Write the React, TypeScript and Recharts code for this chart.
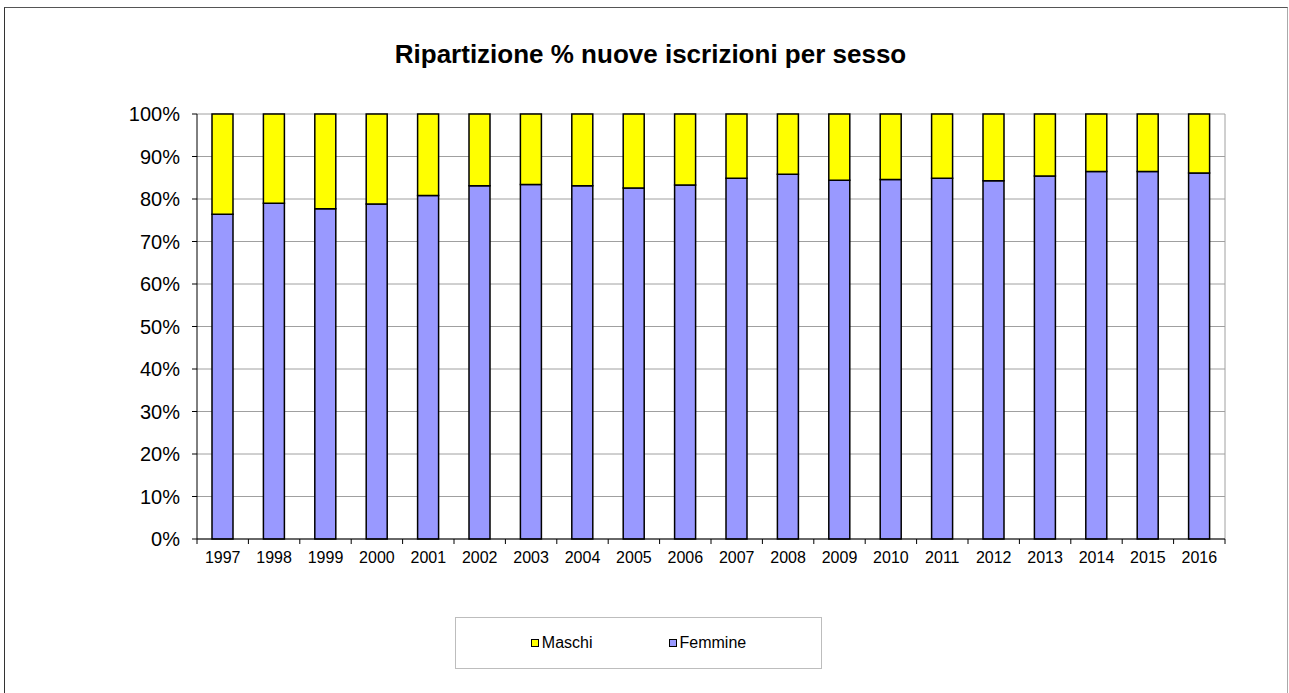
import React from "react";
import {
  BarChart,
  Bar,
  XAxis,
  YAxis,
  CartesianGrid,
  Legend,
} from "recharts";

const YEARS = [
  "1997", "1998", "1999", "2000", "2001", "2002", "2003", "2004", "2005", "2006",
  "2007", "2008", "2009", "2010", "2011", "2012", "2013", "2014", "2015", "2016",
];
const FEMMINE = [
  76.4, 79.0, 77.7, 78.8, 80.8, 83.1, 83.4, 83.1, 82.6, 83.3,
  84.9, 85.8, 84.4, 84.6, 84.9, 84.3, 85.4, 86.5, 86.5, 86.1,
];
const MASCHI = [
  23.6, 21.0, 22.3, 21.2, 19.2, 16.9, 16.6, 16.9, 17.4, 16.7,
  15.1, 14.2, 15.6, 15.4, 15.1, 15.7, 14.6, 13.5, 13.5, 13.9,
];
const Y_TICKS = [0, 10, 20, 30, 40, 50, 60, 70, 80, 90, 100];

const FONT = '"Liberation Sans", Arial, sans-serif';
const TICK_SIZE = 5;
const TICK_MARGIN = 8;

const data = YEARS.map((year, i) => ({
  year,
  femmine: FEMMINE[i],
  maschi: MASCHI[i],
}));

// etichetta dell'asse X con le tacche sui bordi delle categorie
function YearTick(props: any) {
  const { x, y, payload, index, visibleTicksCount } = props;
  const half = payload && payload.offset ? payload.offset : 25.7;
  const axisY = y - TICK_SIZE - TICK_MARGIN;
  return (
    <g>
      <line x1={x - half} x2={x - half} y1={axisY} y2={axisY + TICK_SIZE} stroke="#000" />
      {index === visibleTicksCount - 1 && (
        <line x1={x + half} x2={x + half} y1={axisY} y2={axisY + TICK_SIZE} stroke="#000" />
      )}
      <text x={x} y={y} dy="0.71em" textAnchor="middle" fontSize={16} fontFamily={FONT} fill="#000">
        {payload.value}
      </text>
    </g>
  );
}

function LegendBox(props: any) {
  const items = [...(props.payload || [])].reverse();
  return (
    <div
      style={{
        width: "100%",
        height: "100%",
        boxSizing: "border-box",
        border: "1px solid #bdbdbd",
        display: "flex",
        alignItems: "center",
        justifyContent: "center",
        fontFamily: FONT,
        fontSize: 16,
        color: "#000",
      }}
    >
      {items.map((item: any, i: number) => (
        <div
          key={item.value}
          style={{ display: "flex", alignItems: "center", marginRight: i === 0 ? 76 : 0 }}
        >
          <span
            style={{
              display: "inline-block",
              width: 8,
              height: 8,
              boxSizing: "border-box",
              border: "1px solid #000",
              background: item.color,
              marginRight: 3,
            }}
          />
          <span>{item.value}</span>
        </div>
      ))}
    </div>
  );
}

export default function App() {
  return (
    <div
      style={{
        position: "absolute",
        left: 0,
        top: 0,
        width: 1289,
        height: 693,
        background: "#fff",
        overflow: "hidden",
      }}
    >
      <div
        style={{
          position: "absolute",
          left: 4,
          top: 7,
          width: 1282,
          height: 700,
          borderLeft: "1px solid #333",
          borderTop: "1px solid #555",
          borderRight: "1px solid #aaa",
        }}
      />
      <div
        style={{
          position: "absolute",
          left: 0,
          top: 41,
          width: 1301,
          textAlign: "center",
          fontFamily: FONT,
          fontWeight: "bold",
          fontSize: 26,
          lineHeight: "26px",
          color: "#000",
        }}
      >
        Ripartizione % nuove iscrizioni per sesso
      </div>
      <div style={{ position: "absolute", left: 0, top: 0 }}>
        <BarChart
          width={1289}
          height={693}
          data={data}
          margin={{ top: 114, right: 64, bottom: 124, left: 137 }}
          barSize={21}
        >
          <CartesianGrid
            stroke="#a0a0a0"
            horizontal={true}
            vertical={true}
            verticalCoordinatesGenerator={({ offset }: any) => [offset.left + offset.width]}
          />
          <XAxis
            dataKey="year"
            height={30}
            interval={0}
            tickLine={false}
            tickSize={TICK_SIZE}
            tickMargin={TICK_MARGIN}
            axisLine={{ stroke: "#000", strokeWidth: 1 }}
            tick={<YearTick />}
          />
          <YAxis
            width={60}
            domain={[0, 100]}
            ticks={Y_TICKS}
            interval={0}
            tickFormatter={(v: number) => `${v}%`}
            tickSize={TICK_SIZE}
            tickMargin={12}
            tickLine={{ stroke: "#000" }}
            axisLine={{ stroke: "#000", strokeWidth: 1 }}
            tick={{ fontSize: 20, fontFamily: FONT, fill: "#000" }}
          />
          <Legend
            layout="horizontal"
            verticalAlign="middle"
            align="center"
            wrapperStyle={{ left: 455, top: 617, width: 367, height: 52 }}
            content={<LegendBox />}
          />
          <Bar
            dataKey="femmine"
            name="Femmine"
            stackId="a"
            fill="#9999FF"
            stroke="#000"
            strokeWidth={1.5}
            isAnimationActive={false}
          />
          <Bar
            dataKey="maschi"
            name="Maschi"
            stackId="a"
            fill="#FFFF00"
            stroke="#000"
            strokeWidth={1.5}
            isAnimationActive={false}
          />
        </BarChart>
      </div>
    </div>
  );
}
